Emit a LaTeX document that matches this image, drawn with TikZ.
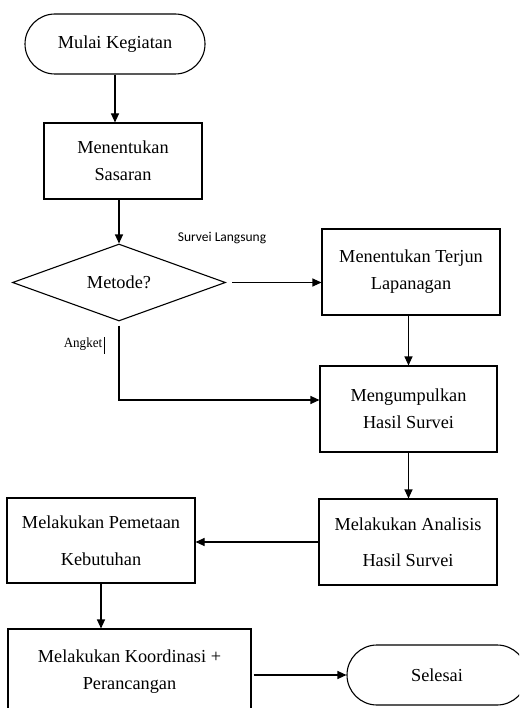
\documentclass[tikz,border=0pt]{standalone}
\usepackage{fontspec}
\setmainfont{Liberation Serif}
\newfontfamily\labelfont{Carlito}
\usetikzlibrary{shapes.geometric,shapes.misc,arrows.meta}

\begin{document}
\begin{tikzpicture}[x=1pt,y=-1pt,
  line width=1.1pt,
  txt/.style={font=\fontsize{18.3}{27}\selectfont, align=center, inner sep=0pt},
  wide/.style={font=\fontsize{18.3}{36.5}\selectfont},
  procbox/.style={txt, draw, rectangle},
  termbox/.style={txt, draw, rounded rectangle},
  decbox/.style={txt, draw, diamond},
  arr/.style={-{Triangle[length=9pt,width=8pt]}},
  edgelabel/.style={font=\labelfont\fontsize{13.5}{16}\selectfont, inner sep=0pt}
]
\useasboundingbox (0,0) rectangle (519,708);
\clip (0,0) rectangle (519,708);

% flowchart steps
\node[termbox, minimum width=180pt, minimum height=60pt] (start) at (115,44) {Mulai Kegiatan};
\node[procbox, minimum width=158pt, minimum height=76pt] (sasaran) at (123,161) {Menentukan\\Sasaran};
\node[decbox, minimum width=213pt, minimum height=71pt] (dec) at (119,282.5) {Metode?};
\node[procbox, minimum width=178pt, minimum height=86pt] (terjun) at (411,272) {Menentukan Terjun\\Lapanagan};
\node[procbox, minimum width=177pt, minimum height=86pt] (kumpul) at (408.5,409) {Mengumpulkan\\Hasil Survei};
\node[procbox, wide, minimum width=178pt, minimum height=86pt] (analisis) at (408,542) {Melakukan Analisis\\Hasil Survei};
\node[procbox, wide, minimum width=188pt, minimum height=85pt] (pemetaan) at (101,540.5) {Melakukan Pemetaan\\Kebutuhan};
\node[procbox, minimum width=243pt, minimum height=85pt] (koord) at (129.5,671.5) {Melakukan Koordinasi +\\Perancangan};
\node[termbox, minimum width=180pt, minimum height=60pt] (selesai) at (437,675) {Selesai};

% branch labels
\node[edgelabel] (lblsurvei) at (222,238) {Survei Langsung};
\node[font=\fontsize{14}{16}\selectfont, inner sep=0pt] (lblangket) at (83,344) {\scalebox{0.93}[1]{Angket}};
\draw[line width=0.6pt] ([xshift=1.2pt]lblangket.north east) -- ([xshift=1.2pt,yshift=-3pt]lblangket.south east);

% connectors
\coordinate (bend) at (dec.south |- 0,400);
\draw[arr] (start.south) -- (start.south |- sasaran.north);
\draw[arr] (dec.north |- sasaran.south) -- (dec.north);
\draw[arr, shorten <=6pt] (dec.east) -- (dec.east -| terjun.west);
\draw[arr] (kumpul.north |- terjun.south) -- (kumpul.north);
\draw[arr, shorten <=4pt] (dec.south) -- (bend) -- (bend -| kumpul.west);
\draw[arr] (kumpul.south) -- (kumpul.south |- analisis.north);
\draw[arr] (analisis.west) -- (analisis.west -| pemetaan.east);
\draw[arr] (pemetaan.south) -- (pemetaan.south |- koord.north);
\draw[arr, shorten <=2pt] (koord.east |- selesai.west) -- (selesai.west);
\end{tikzpicture}
\end{document}
